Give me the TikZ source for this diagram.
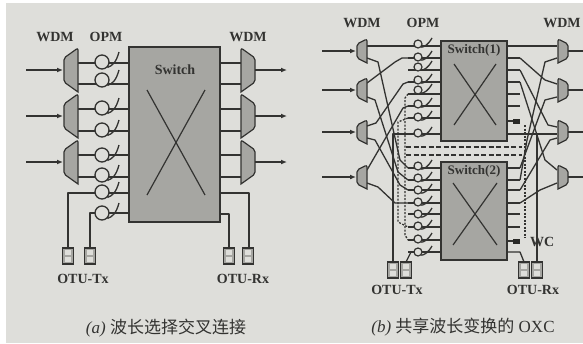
\documentclass[tikz,border=0pt]{standalone}
\usepackage{fontspec}
\setmainfont{Liberation Serif}
\newfontfamily\cjk{Noto Sans CJK SC}
\definecolor{paper}{HTML}{DEDEDA}
\definecolor{sw}{HTML}{A6A6A2}
\definecolor{ink}{HTML}{333331}
\usetikzlibrary{arrows.meta}
\tikzset{
  wire/.style={draw=ink,line width=1.3pt,line join=round},
  dotwire/.style={draw=ink,line width=1.3pt,dash pattern=on 2pt off 1.5pt},
  dashwire/.style={draw=ink,line width=1.3pt,dash pattern=on 5pt off 2.5pt},
  flow/.style={wire,-{Latex[length=6pt,width=5pt]}},
  swbox/.style={draw=ink,fill=sw,line width=1.3pt,minimum width=0pt,inner sep=0pt},
  lab/.style={text=ink,font=\bfseries\fontsize{14}{15}\selectfont,inner sep=0pt},
  captext/.style={text=ink,font=\fontsize{17}{19}\selectfont,inner sep=0pt},
  opm/.style={circle,draw=ink,line width=1.3pt,fill=paper,minimum size=14pt,inner sep=0pt},
  opms/.style={circle,draw=ink,line width=1.2pt,fill=paper,minimum size=8pt,inner sep=0pt},
  otu/.style={draw=ink,fill=sw,line width=1.2pt,minimum width=11pt,minimum height=16pt,inner sep=0pt},
}
% #1 narrow-side x, #2 centre y, #3 width, #4 narrow half height, #5 wide half height
\newcommand{\muxR}[5]{\draw[draw=ink,fill=sw,line width=1.2pt,rounded corners=2pt] (#1,#2-#4) -- (#1+#3,#2-#5) [sharp corners] -- (#1+#3,#2+#5) [rounded corners=2pt] -- (#1,#2+#4) -- cycle;}
\newcommand{\muxL}[5]{\draw[draw=ink,fill=sw,line width=1.2pt,rounded corners=2pt] (#1,#2-#4) -- (#1-#3,#2-#5) [sharp corners] -- (#1-#3,#2+#5) [rounded corners=2pt] -- (#1,#2+#4) -- cycle;}
\newcommand{\otubox}[3]{\node[otu] (#1) at (#2,#3) {};
  \fill[paper] (#2-3,#3-6) rectangle (#2+3,#3-1.2);
  \fill[paper] (#2-3,#3+1.2) rectangle (#2+3,#3+6);}
\begin{document}
\begin{tikzpicture}[x=1pt,y=-1pt]
\useasboundingbox (0,0) rectangle (583,343);
\fill[white] (0,0) rectangle (583,343);
\fill[paper] (6,3) rectangle (583,343);
% ---------- panel (a)
\foreach \y/\n in {63/a,84/b,109/c,131/d,155/e,177/f}{
  \draw[wire] (76,\y) -- (129,\y);
  \draw[wire] (220,\y) -- (242,\y);
}
\draw[wire] (129,193) -- (68,193) -- (68,248);
\draw[wire] (129,213) -- (90,213) -- (90,248);
\draw[wire] (220,193) -- (249,193) -- (249,248);
\draw[wire] (220,214) -- (229,214) -- (229,248);
\node[swbox,minimum width=91pt,minimum height=175pt] (swa) at (174.5,134.5) {};
\node[lab] (swal) at (175,70) {Switch};
\draw[draw=ink,line width=1.2pt] (147,90) -- (205,195) (205,90) -- (147,195);
\foreach \y in {70,116,162}{
  \muxR{64}{\y}{14}{12}{22}
  \muxL{255}{\y}{14}{12}{22}
  \coordinate (in\y) at (26,\y); \coordinate (ia\y) at (63,\y);
  \coordinate (ou\y) at (255,\y); \coordinate (oa\y) at (287,\y);
  \draw[flow] (in\y) -- (ia\y);
  \draw[flow] (ou\y) -- (oa\y);
}
\foreach \y in {62,80,108,130,155,175,192,213}{
  \node[opm] (o\y) at (102,\y) {};
  \draw[wire] (o\y.south east) .. controls (112,\y+4) and (116,\y+1) .. (119,\y-10);
}
\otubox{ta}{68}{256}\otubox{tb}{90}{256}\otubox{ra}{229}{256}\otubox{rb}{248}{256}
\node[lab] (w1) at (55,37) {WDM};
\node[lab] (w2) at (106,37) {OPM};
\node[lab] (w3) at (248,37) {WDM};
\node[lab] (t1) at (83,279) {OTU-Tx};
\node[lab] (t2) at (243,279) {OTU-Rx};
\node[captext] (c1) at (166,328) {\textit{(a)} {\cjk 波长选择交叉连接}};
% ---------- panel (b): wires
\foreach \y in {46,58,70,82,94,106,118,134,168,180,190,203,214,227,240,252}{
  \draw[wire] (408,\y) -- (441,\y);
}
\foreach \y in {58,70,82,94,106}{\draw[wire] (507,\y) -- (520,\y);}
\foreach \y in {168,180,190,203,214,227}{\draw[wire] (507,\y) -- (520,\y);}
\draw[wire] (367,46) -- (441,46);
\draw[wire] (367,58) -- (378,62) -- (400,160) -- (408,168);
\draw[wire] (367,83) -- (395,62) -- (402,58) -- (408,58);
\draw[wire] (367,97) -- (375,100) -- (398,172) -- (408,180);
\draw[wire] (367,126) -- (376,123) -- (403,84) -- (408,82);
\draw[wire] (367,138) -- (375,140) -- (400,185) -- (408,190);
\draw[wire] (367,170) -- (403,108) -- (408,106);
\draw[wire] (367,183) -- (378,187) -- (395,203) -- (408,203);
\draw[wire] (393,262) -- (393,134) -- (441,134);
\draw[wire] (406,262) -- (411,252) -- (441,252);
\draw[dotwire] (408,118) -- (398,122) -- (398,222) -- (408,227);
\draw[dotwire] (408,94) -- (405,98) -- (405,235) -- (408,240);
\draw[dashwire] (406,147) -- (522,147);
\draw[dashwire] (406,155) -- (522,155);
% right wires
\draw[wire] (507,46) -- (557,46);
\draw[wire] (520,58) -- (545,80) -- (557,84);
\draw[wire] (520,70) -- (548,125) -- (557,127);
\draw[wire] (520,82) -- (545,160) -- (557,170);
\draw[wire] (520,168) -- (545,100) -- (557,97);
\draw[wire] (520,180) -- (527,140) -- (545,62) -- (557,58);
\draw[wire] (520,190) -- (550,140) -- (557,138);
\draw[wire] (520,203) -- (540,190) -- (557,183);
\draw[wire] (507,134) -- (557,134);
\draw[wire] (537,262) -- (537,134);
\draw[wire] (507,252) -- (520,252) -- (524,262);
\draw[dotwire] (525,125) -- (525,238);
\draw[draw=ink,line width=1.2pt] (507,121) -- (514,121) (507,241) -- (514,241);
\fill[ink!80!black] (513,119) rectangle (520,123.5);
\fill[ink!80!black] (513,239) rectangle (520,243.5);
% switches
\node[swbox,minimum width=66pt,minimum height=100pt] (sw1) at (474,91) {};
\node[swbox,minimum width=66pt,minimum height=98pt] (sw2) at (474,211) {};
\node[lab,font=\bfseries\fontsize{13}{14}\selectfont] (sw1l) at (474,50) {Switch(1)};
\node[lab,font=\bfseries\fontsize{13}{14}\selectfont] (sw2l) at (474,171) {Switch(2)};
\draw[draw=ink,line width=1.2pt] (454,64) -- (496,125) (496,64) -- (454,125);
\draw[draw=ink,line width=1.2pt] (453,183) -- (497,245) (497,183) -- (453,245);
% muxes
\foreach \y/\h in {51/1,90/2,132/3,177/4}{
  \muxR{357}{\y}{10}{7}{12}
  \muxL{568}{\y}{10}{7}{12}
  \coordinate (bi\y) at (322,\y); \coordinate (bj\y) at (356,\y);
  \coordinate (bo\y) at (568,\y); \coordinate (bp\y) at (583,\y);
  \draw[flow] (bi\y) -- (bj\y);
  \draw[wire] (bo\y) -- (bp\y);
}
\foreach \y in {44,57,67,80,90,104,117,133,166,178,190,202,214,226,239,252}{
  \node[opms] (p\y) at (418,\y) {};
  \draw[wire] (p\y.south east) .. controls (424,\y+3) and (428,\y+1) .. (432,\y-6);
}
\otubox{tc}{393}{270}\otubox{td}{406}{270}\otubox{rc}{524}{270}\otubox{rd}{537}{270}
\node[lab] (w4) at (362,23) {WDM};
\node[lab] (w5) at (423,23) {OPM};
\node[lab] (w6) at (562,23) {WDM};
\node[lab] (t3) at (397,290) {OTU-Tx};
\node[lab] (t4) at (533,290) {OTU-Rx};
\node[lab,anchor=west] (wc) at (530,242) {WC};
\node[captext] (c2) at (463,327) {\textit{(b)} {\cjk 共享波长变换的} OXC};
\end{tikzpicture}
\end{document}
